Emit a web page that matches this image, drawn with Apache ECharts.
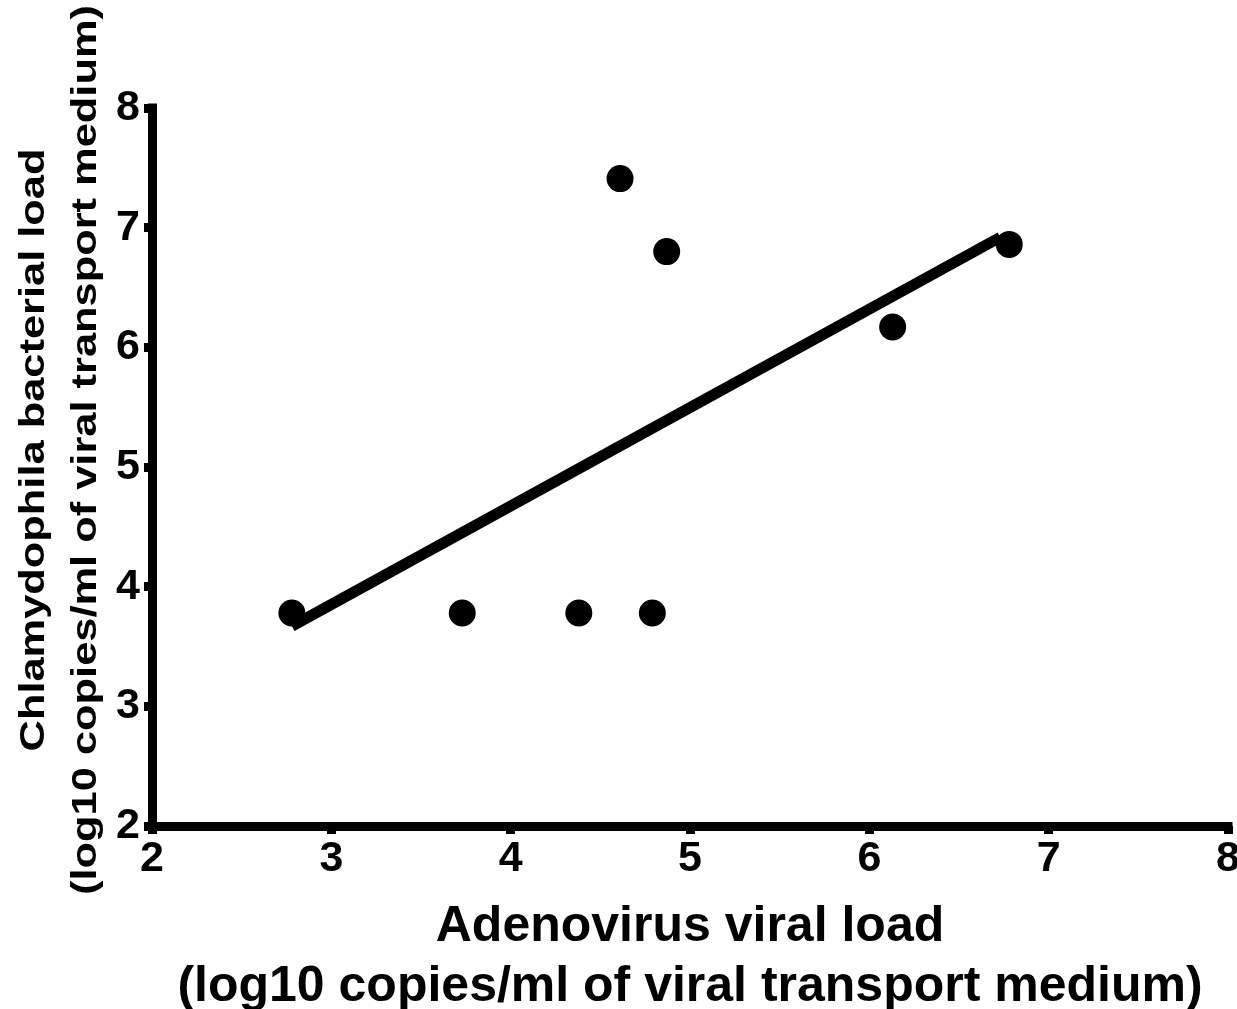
<!DOCTYPE html>
<html>
<head>
<meta charset="utf-8">
<script src="https://cdn.jsdelivr.net/npm/echarts@6/dist/echarts.min.js"></script>
<style>
  html, body { margin: 0; padding: 0; background: #fff; }
  #chart { width: 1237px; height: 1009px; }
</style>
</head>
<body>
<div id="chart"></div>
<script>
'use strict'

// Adenovirus load (x) vs Chlamydophila load (y), log10 copies/ml
const adenoLoad = [2.78, 3.73, 4.38, 4.79, 4.61, 4.87, 6.13, 6.78]
const chlamLoad = [3.78, 3.78, 3.78, 3.78, 7.41, 6.80, 6.17, 6.86]
// regression line end points
const fitX = [2.78, 6.73]
const fitY = [3.67, 6.92]

const xTitle = 'Adenovirus viral load\n(log10 copies/ml of viral transport medium)'
const yTitle = 'Chlamydophila bacterial load\n(log10 copies/ml of viral transport medium)'

const FONT = '"Liberation Sans", Arial, sans-serif'

const chart = echarts.init(document.getElementById('chart'))

const axisCommon = {
  type: 'value',
  min: 2,
  max: 8,
  interval: 1,
  splitLine: { show: false },
  axisLine: { show: true, lineStyle: { color: '#000', width: 9, cap: 'square' } },
  axisTick: { show: true, length: 8, lineStyle: { color: '#000', width: 9 } },
  axisLabel: { color: '#000', fontFamily: FONT, fontWeight: 'bold', fontSize: 43 }
}

const option = {
  backgroundColor: '#fff',
  animation: false,
  grid: { left: 152, right: 9, top: 108, bottom: 183, outerBoundsMode: 'none', containLabel: false },
  xAxis: Object.assign({}, axisCommon, {
    axisLabel: Object.assign({}, axisCommon.axisLabel, { margin: 12 }),
    name: xTitle,
    nameLocation: 'middle',
    nameGap: 71,
    nameTextStyle: {
      color: '#000', fontFamily: FONT, fontWeight: 'bold', fontSize: 50, lineHeight: 60
    }
  }),
  yAxis: Object.assign({}, axisCommon, {
    axisLabel: Object.assign({}, axisCommon.axisLabel, { margin: 12 })
  }),
  graphic: [
    {
      type: 'text',
      x: 60,
      y: 450,
      rotation: Math.PI / 2,
      scaleX: 1.24,
      style: {
        text: yTitle,
        fill: '#000',
        font: 'bold 35px ' + FONT,
        lineHeight: 52,
        align: 'center',
        verticalAlign: 'middle'
      }
    }
  ],
  series: [
    {
      type: 'line',
      data: fitX.map((x, i) => [x, fitY[i]]),
      symbol: 'none',
      lineStyle: { color: '#000', width: 11, cap: 'butt' },
      z: 2
    },
    {
      type: 'scatter',
      data: adenoLoad.map((x, i) => [x, chlamLoad[i]]),
      symbol: 'circle',
      symbolSize: 27,
      itemStyle: { color: '#000', opacity: 1 },
      z: 3
    }
  ]
}

chart.setOption(option)
</script>
</body>
</html>
